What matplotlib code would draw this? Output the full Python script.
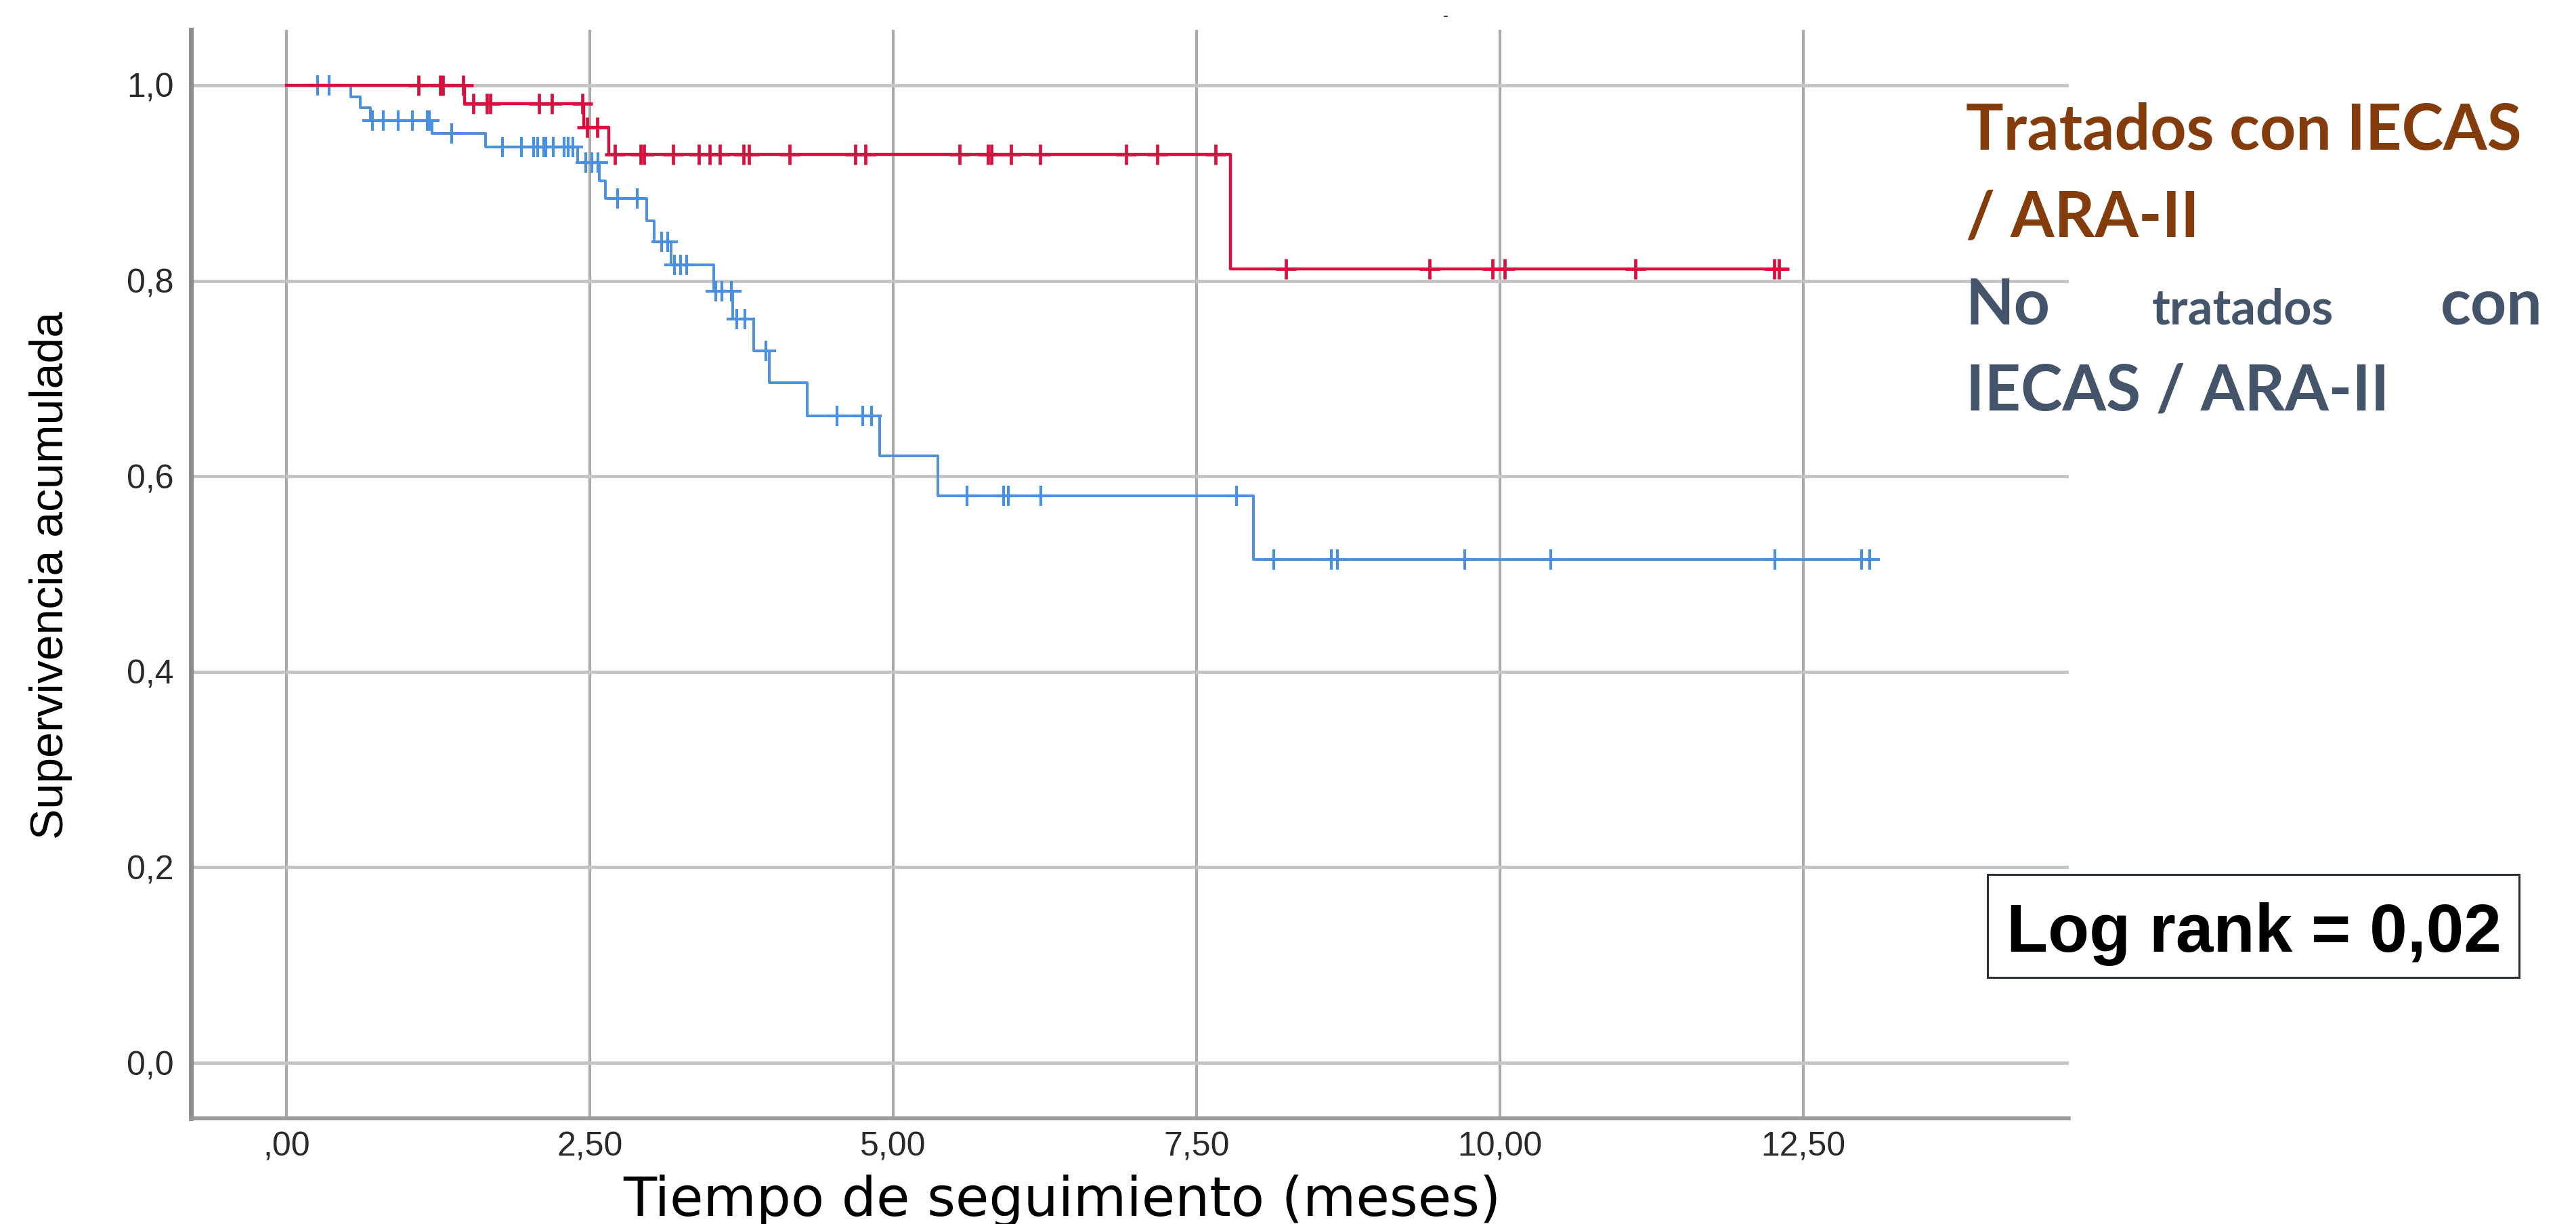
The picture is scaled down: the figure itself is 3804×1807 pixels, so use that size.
import numpy as np
import matplotlib
matplotlib.use("Agg")
import matplotlib.pyplot as plt
from matplotlib.patches import Rectangle

# Kaplan-Meier steps (time in months, cumulative survival)
red_time = [0, 1.47, 2.45, 2.66, 7.78, 12.36]
red_surv = [1.0, 0.981, 0.957, 0.929, 0.812, 0.812]
red_cens = [1.09, 1.27, 1.29, 1.46, 1.54, 1.65, 1.68, 2.08, 2.19, 2.44, 2.48, 2.56,
            2.71, 2.92, 2.95, 3.19, 3.40, 3.49, 3.57, 3.77, 3.81, 4.15, 4.69, 4.77,
            5.55, 5.78, 5.81, 5.97, 6.21, 6.92, 7.18, 7.66, 8.24, 9.42, 9.94, 10.04,
            11.12, 12.26, 12.30]

blue_time = [0, 0.53, 0.61, 0.69, 1.20, 1.64, 2.40, 2.58, 2.63, 2.97, 3.03, 3.17,
             3.52, 3.68, 3.85, 3.98, 4.29, 4.89, 5.37, 7.97, 13.12]
blue_surv = [1.0, 0.988, 0.977, 0.964, 0.951, 0.937, 0.921, 0.902, 0.884, 0.861, 0.840,
             0.816, 0.789, 0.761, 0.728, 0.696, 0.662, 0.621, 0.580, 0.515, 0.515]
blue_cens = [0.26, 0.35, 0.71, 0.80, 0.92, 1.04, 1.16, 1.18, 1.36, 1.78, 1.94, 2.04,
             2.07, 2.12, 2.14, 2.20, 2.29, 2.32, 2.36, 2.47, 2.52, 2.57, 2.73, 2.89,
             3.09, 3.14, 3.20, 3.25, 3.30, 3.54, 3.59, 3.67, 3.71, 3.78, 3.95, 4.54,
             4.75, 4.82, 5.61, 5.91, 5.95, 6.22, 7.83, 8.14, 8.61, 8.66, 9.71, 10.42,
             12.27, 12.98, 13.05]

xticks = [0, 2.5, 5, 7.5, 10, 12.5]
xtick_labels = [",00", "2,50", "5,00", "7,50", "10,00", "12,50"]
yticks = [0, 0.2, 0.4, 0.6, 0.8, 1.0]
ytick_labels = ["0,0", "0,2", "0,4", "0,6", "0,8", "1,0"]

RED = "#d81040"
BLUE = "#4a8fe0"
W, H = 3804, 1807


def fx(px):
    return px / W


def fy(py):
    return 1 - py / H


def surv_at(times, surv, t):
    idx = np.searchsorted(times, t, side="right") - 1
    return np.array(surv)[idx]


fig = plt.figure(figsize=(W / 100, H / 100), dpi=100)
ax = fig.add_axes([0.0741, 0.0863, 0.729, 0.8894])

ax.step(blue_time, blue_surv, where="post", color=BLUE, lw=2.8, zorder=3)
ax.plot(blue_cens, surv_at(blue_time, blue_surv, blue_cens), ls="none", marker="+",
        ms=22, mew=3, color=BLUE, zorder=3)
ax.step(red_time, red_surv, where="post", color=RED, lw=3.2, zorder=4)
ax.plot(red_cens, surv_at(red_time, red_surv, red_cens), ls="none", marker="+",
        ms=22, mew=3.4, color=RED, zorder=4)

ax.set_xlim(-0.787, 14.69)
ax.set_ylim(-0.0568, 1.0568)
ax.set_xticks(xticks)
ax.set_xticklabels(xtick_labels, family="Liberation Sans")
ax.set_yticks(yticks)
ax.set_yticklabels(ytick_labels, family="Liberation Sans")
ax.tick_params(length=0, labelsize=36, labelcolor="#2a2a2a")
ax.tick_params(axis="y", pad=18)
ax.tick_params(axis="x", pad=14)

ax.xaxis.grid(True, color="#ababab", lw=3)
ax.yaxis.grid(True, color="#c4c4c4", lw=3.5)
ax.set_axisbelow(True)

for s in ["top", "right"]:
    ax.spines[s].set_visible(False)
ax.spines["left"].set_color("#8c8c8c")
ax.spines["left"].set_linewidth(5)
ax.spines["bottom"].set_color("#999999")
ax.spines["bottom"].set_linewidth(4)

# axis titles
fig.text(fx(75), fy(849), "Supervivencia acumulada", rotation=90, ha="center", va="center",
         fontsize=49, family="Liberation Sans", color="black")
fig.text(fx(1568), fy(1795), "Tiempo de seguimiento (meses)", ha="center", va="baseline",
         fontsize=58, family="DejaVu Sans", color="black")
fig.text(fx(2135), fy(24), "-", ha="center", va="center", fontsize=16, color="#333333")

# group labels
BROWN = "#843c0c"
SLATE = "#44546a"
lkw = dict(family="Lato", weight="bold", va="baseline")
fig.text(fx(2903), fy(221), "Tratados con IECAS", color=BROWN, fontsize=67, ha="left", **lkw)
fig.text(fx(2903), fy(350), "/ ARA-II", color=BROWN, fontsize=67, ha="left", **lkw)
fig.text(fx(2903), fy(478), "No", color=SLATE, fontsize=67, ha="left", **lkw)
fig.text(fx(3312), fy(478), "tratados", color=SLATE, fontsize=52, ha="center", **lkw)
fig.text(fx(3755), fy(478), "con", color=SLATE, fontsize=67, ha="right", **lkw)
fig.text(fx(2903), fy(605), "IECAS / ARA-II", color=SLATE, fontsize=67, ha="left", **lkw)

# log rank box
fig.patches.append(Rectangle((fx(2935), fy(1443)), fx(3720) - fx(2935), fy(1291) - fy(1443),
                             transform=fig.transFigure, fill=False, ec="#2b2f36", lw=2.2))
fig.text(fx(3328), fy(1405), "Log rank = 0,02", ha="center", va="baseline", fontsize=72,
         family="Liberation Sans", weight="bold", color="black")

fig.savefig("out.png", dpi=100, facecolor="white")
